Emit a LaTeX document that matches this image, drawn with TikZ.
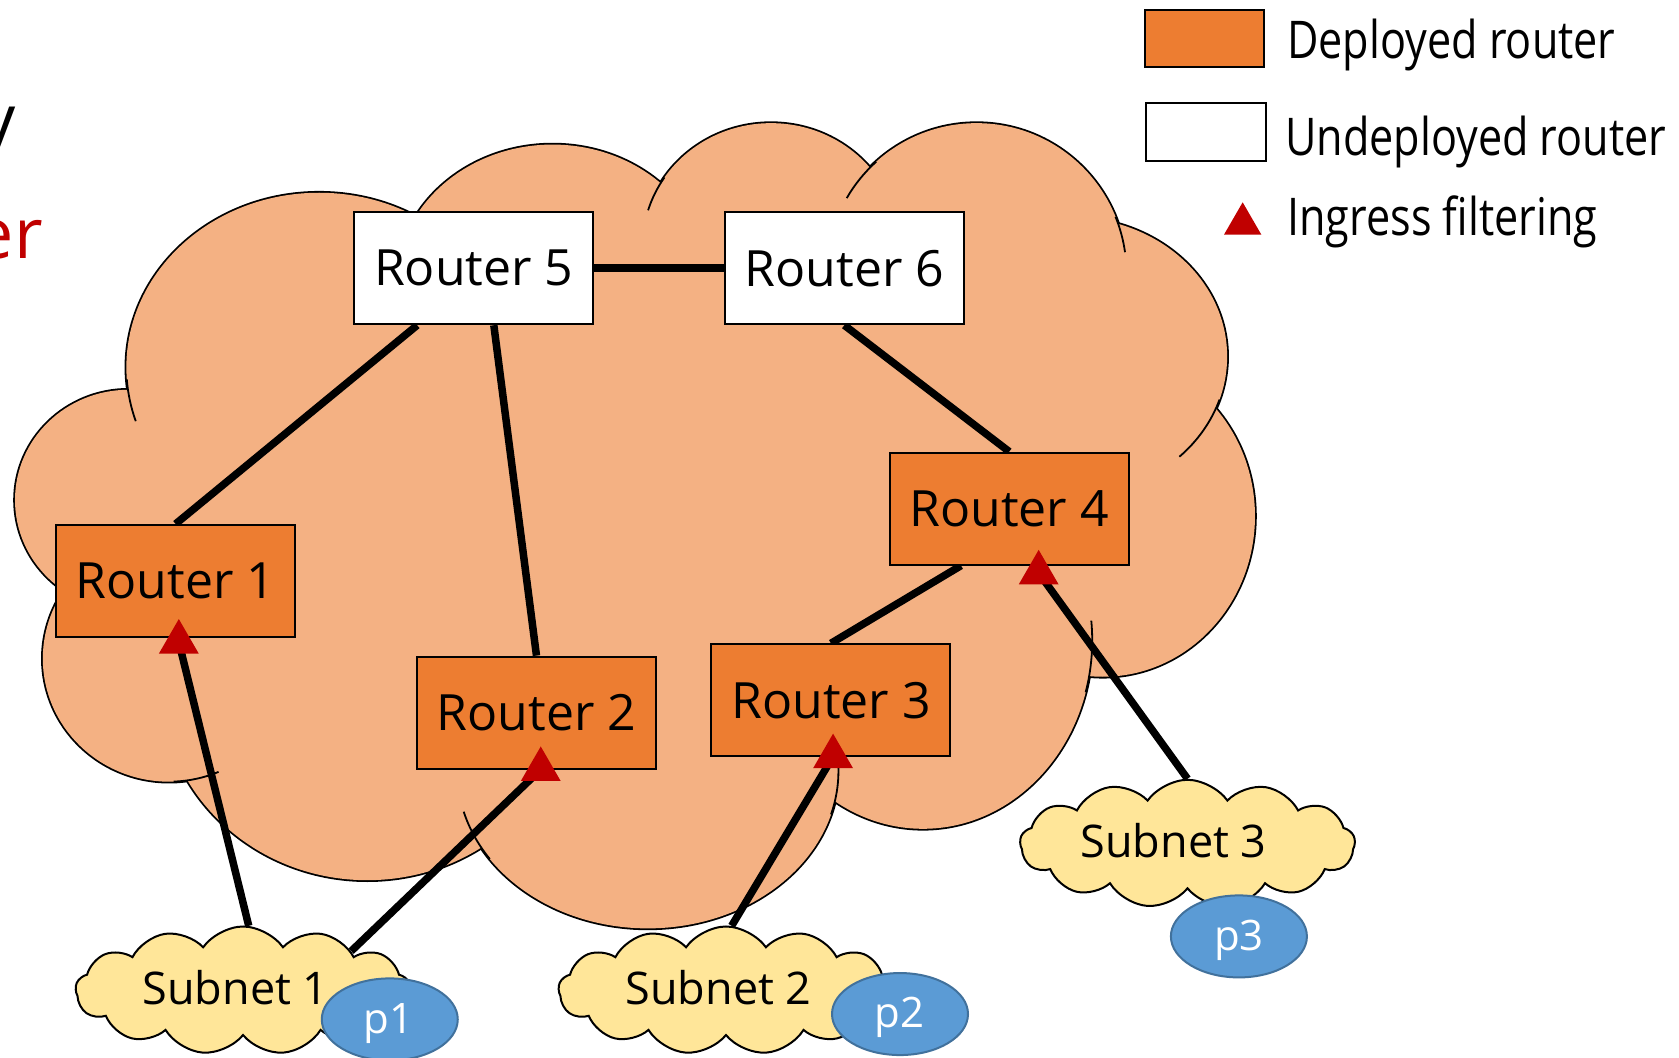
\documentclass[tikz,border=0pt]{standalone}
\usepackage{fontspec}
\setmainfont{Open Sans}
\usetikzlibrary{shapes.geometric,shapes.symbols,calc}

\definecolor{cloudfill}{HTML}{F4B183}
\definecolor{deployedorange}{HTML}{ED7D31}
\definecolor{subnetyellow}{HTML}{FFE699}
\definecolor{pblue}{HTML}{5B9BD5}
\definecolor{pborder}{HTML}{41719C}
\definecolor{filterred}{HTML}{C00000}

\pgfdeclarelayer{cloudlayer}
\pgfdeclarelayer{linklayer}
\pgfsetlayers{cloudlayer,linklayer,main}

\newcommand{\narrow}[1]{\scalebox{0.83}[1]{#1}}

\begin{document}
\begin{tikzpicture}[x=1.0708pt, y=-1.0708pt,
  routerbox/.style={draw=black, line width=2pt, minimum width=239pt, minimum height=112pt,
    inner sep=0pt, font=\fontsize{50}{60}\selectfont},
  deployed/.style={routerbox, fill=deployedorange},
  undeployed/.style={routerbox, fill=white},
  wire/.style={line width=7.5pt},
  ingress/.style={regular polygon, regular polygon sides=3, fill=filterred, draw=none,
    minimum size=46pt, inner sep=0pt},
  subnetcloud/.style={cloud, cloud puffs=13, cloud puff arc=110, cloud ignores aspect,
    draw=black, line width=2pt, fill=subnetyellow, minimum width=335pt, minimum height=128pt,
    inner sep=0pt},
  subnetlabel/.style={inner sep=0pt, font=\fontsize{45}{54}\selectfont},
  pbubble/.style={ellipse, draw=pborder, line width=2pt, fill=pblue, minimum width=136pt,
    minimum height=82pt, inner sep=0pt},
  plabel/.style={inner sep=0pt, text=white, font=\fontsize{42}{50}\selectfont},
  legendtext/.style={anchor=base west, inner sep=0pt, font=\fontsize{52}{62}\selectfont}
]
\useasboundingbox (0,0) rectangle (1568,988);
\clip (0,0) rectangle (1568,988);

% network cloud: union of lobes, outlined, then refilled to hide inner strokes
\begin{pgfonlayer}{cloudlayer}
  \fill[white] (0,0) rectangle (1568,988);
  \foreach \cx/\cy/\rx/\ry in {298/343/180/163, 120/467/106/103, 158/615/118/115,
      343/638/193/184, 605/720/178/147, 862/598/158/176, 1030/482/142/150,
      1000/333/146/130, 912/255/140/140, 720/230/120/115, 516/265/146/130}
    \draw[line width=3.6pt, fill=cloudfill] (\cx,\cy) ellipse [x radius=\rx, y radius=\ry];
  \foreach \cx/\cy/\rx/\ry in {298/343/180/163, 120/467/106/103, 158/615/118/115,
      343/638/193/184, 605/720/178/147, 862/598/158/176, 1030/482/142/150,
      1000/333/146/130, 912/255/140/140, 720/230/120/115, 516/265/146/130, 600/480/420/260}
    \fill[cloudfill] (\cx,\cy) ellipse [x radius=\rx, y radius=\ry];
  % short inner arcs where the lobes meet
  \foreach \cx/\cy/\rx/\ry/\a/\b in {298/343/180/163/176/162, 158/615/118/115/88/67,
      605/720/178/147/146/165, 605/720/178/147/16/-3, 862/598/158/176/16/-6,
      1000/333/146/130/18/46, 912/255/140/140/-22/-8, 912/255/140/140/228/210,
      720/230/120/115/214/197}
    \draw[line width=1.8pt] ({\cx+\rx*cos(\a)},{\cy+\ry*sin(\a)})
      arc[start angle=\a, end angle=\b, x radius=\rx, y radius=\ry];
\end{pgfonlayer}

% routers
\node[undeployed] (r5) at (442.5,250.5) {Router 5};
\node[undeployed] (r6) at (788.5,250.5) {Router 6};
\node[deployed] (r1) at (164,542.5) {Router 1};
\node[deployed] (r2) at (501,665.5) {Router 2};
\node[deployed] (r3) at (776,654) {Router 3};
\node[deployed] (r4) at (942.5,475) {Router 4};

% ingress filters
\node[ingress] (f1) at (167,599.6) {};
\node[ingress] (f2) at (505,718.6) {};
\node[ingress] (f3) at (778,706.6) {};
\node[ingress] (f4) at (970,535) {};

% subnets and their prefixes
\node[subnetcloud] (s1) at (227,925) {};
\node[subnetcloud] (s2) at (678,925) {};
\node[subnetcloud] (s3) at (1109,788) {};
\node[subnetlabel] (s1text) at (220,922) {Subnet 1};
\node[subnetlabel] (s2text) at (671,922) {Subnet 2};
\node[subnetlabel] (s3text) at (1096,785) {Subnet 3};
\node[pbubble] (p1) at (364,952) {};
\node[pbubble] (p2) at (840.5,947) {};
\node[pbubble] (p3) at (1157,874.5) {};
\node[plabel] (p1text) at (363,956) {p1};
\node[plabel] (p2text) at (840,950) {p2};
\node[plabel] (p3text) at (1157,878) {p3};

% links
\begin{pgfonlayer}{linklayer}
  \draw[wire] (r5.east) -- (r6.west);
  \draw[wire] ($(r5.south west)!0.265!(r5.south east)$) -- (r1.north);
  \draw[wire] ($(r5.south west)!0.583!(r5.south east)$) -- (r2.north);
  \draw[wire] (r6.south) -- (r4.north);
  \draw[wire] ($(r4.south west)!0.30!(r4.south east)$) -- (r3.north);
  \draw[wire] (f1.center) -- (s1.85);
  \draw[wire] (f2.center) -- (s1.20);
  \draw[wire] (f3.center) -- (s2.85);
  \draw[wire] (f4.center) -- (s3.north);
\end{pgfonlayer}

% legend
\node[deployed, minimum width=119pt, minimum height=57pt] (legdep) at (1124.5,35.5) {};
\node[undeployed, minimum width=120pt, minimum height=58pt] (legundep) at (1126,123) {};
\node[ingress, minimum size=43pt] (legfilt) at (1160.5,209) {};
\node[legendtext] (legdeptext) at (1202,55) {\narrow{Deployed router}};
\node[legendtext] (legundeptext) at (1200,145) {\narrow{Undeployed router}};
\node[legendtext] (legfilttext) at (1202,220) {\narrow{Ingress filtering}};

% title fragments at the left edge
\node[anchor=base east, inner sep=0pt, font=\fontsize{70}{84}\selectfont] (titley) at (15,135.4) {y};
\node[anchor=base east, inner sep=0pt, text=filterred, font=\fontsize{70}{84}\selectfont] (titleer) at (40.2,241) {er};
\end{tikzpicture}
\end{document}
